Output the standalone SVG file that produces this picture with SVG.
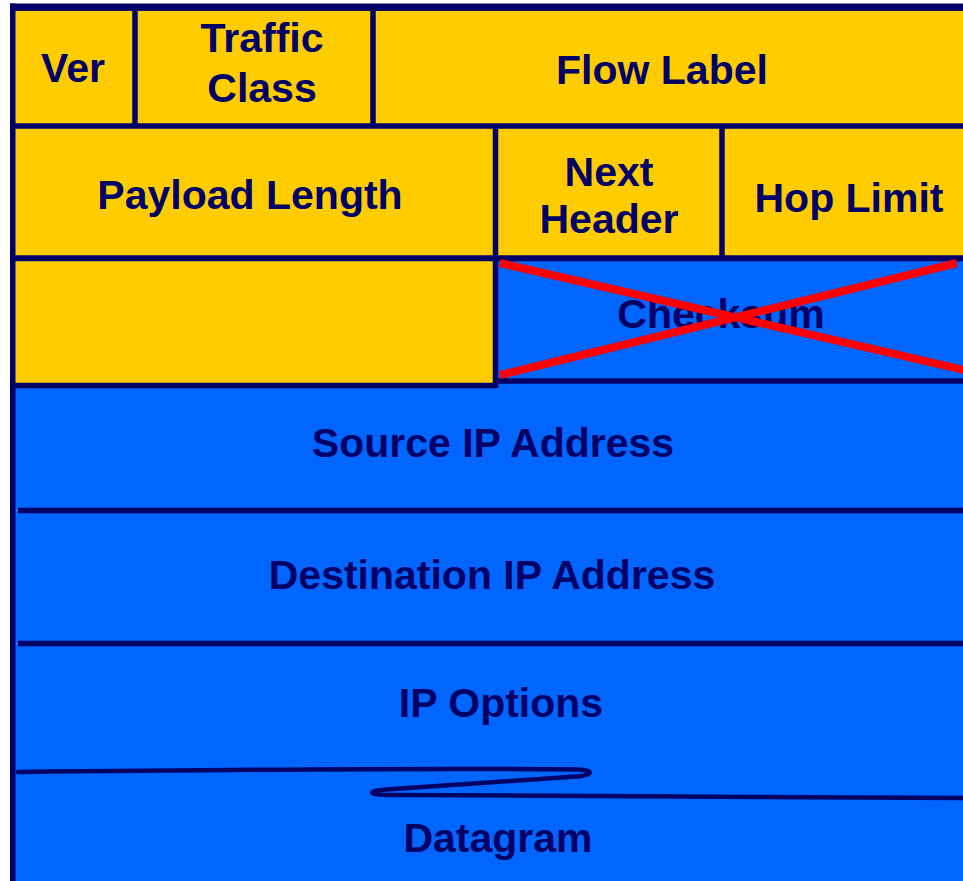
<svg xmlns="http://www.w3.org/2000/svg" width="963" height="881" viewBox="0 0 963 881">
  <style>
    .yel { fill: #FFCC00; }
    .blu { fill: #0066FF; }
    .rule { stroke: #000066; stroke-width: 5.5; fill: none; }
    .lbl { font-family: "Liberation Sans", Arial, sans-serif; font-weight: bold; font-size: 41px; fill: #000066; text-anchor: middle; }
    .cross { stroke: #FF0000; stroke-width: 8; stroke-linecap: butt; }
  </style>
  <rect x="0" y="0" width="963" height="881" fill="#FFFFFF"/>

  <!-- header row 1 -->
  <g id="ver">
    <rect class="yel" x="12.5" y="7" width="122.5" height="119"/>
    <text class="lbl" x="73" y="82">Ver</text>
  </g>
  <g id="traffic-class">
    <rect class="yel" x="135" y="7" width="238" height="119"/>
    <text class="lbl" x="262" y="52">Traffic</text>
    <text class="lbl" x="262" y="102">Class</text>
  </g>
  <g id="flow-label">
    <rect class="yel" x="373" y="7" width="600" height="119"/>
    <text class="lbl" x="662" y="84">Flow Label</text>
  </g>

  <!-- header row 2 -->
  <g id="payload-length">
    <rect class="yel" x="12.5" y="126" width="483" height="132"/>
    <text class="lbl" x="250" y="209">Payload Length</text>
  </g>
  <g id="next-header">
    <rect class="yel" x="495.5" y="126" width="226.5" height="132"/>
    <text class="lbl" x="609" y="186">Next</text>
    <text class="lbl" x="609" y="233">Header</text>
  </g>
  <g id="hop-limit">
    <rect class="yel" x="722" y="126" width="251" height="132"/>
    <text class="lbl" x="849" y="212">Hop Limit</text>
  </g>

  <!-- header row 3 -->
  <g id="unused">
    <rect class="yel" x="12.5" y="258" width="483" height="127.5"/>
  </g>
  <g id="checksum">
    <rect class="blu" x="495.5" y="258" width="478" height="123"/>
    <text class="lbl" x="721" y="328">Checksum</text>
  </g>

  <!-- address / payload section -->
  <g id="source-ip">
    <rect class="blu" x="12.5" y="385.5" width="960" height="125"/>
    <rect class="blu" x="495.5" y="381" width="478" height="10"/>
    <text class="lbl" x="493" y="457">Source IP Address</text>
  </g>
  <g id="destination-ip">
    <rect class="blu" x="12.5" y="510.5" width="960" height="133"/>
    <text class="lbl" x="492" y="589">Destination IP Address</text>
  </g>
  <g id="ip-options">
    <rect class="blu" x="12.5" y="643.5" width="960" height="130"/>
    <text class="lbl" x="501" y="717">IP Options</text>
  </g>
  <g id="datagram">
    <rect class="blu" x="12.5" y="770" width="960" height="111"/>
    <text class="lbl" x="498" y="852">Datagram</text>
  </g>

  <!-- grid rules, break line and strike-through -->
  <g id="connectors">
    <line class="rule" x1="10" y1="7.3" x2="963" y2="7.3" style="stroke-width:7.5"/>
    <line class="rule" x1="12.75" y1="3.5" x2="12.75" y2="881"/>
    <line class="rule" x1="135" y1="7" x2="135" y2="126"/>
    <line class="rule" x1="373" y1="7" x2="373" y2="126"/>
    <line class="rule" x1="10" y1="126" x2="963" y2="126"/>
    <line class="rule" x1="495.5" y1="126" x2="495.5" y2="388"/>
    <line class="rule" x1="722" y1="126" x2="722" y2="258"/>
    <line class="rule" x1="10" y1="258.3" x2="963" y2="258.3" style="stroke-width:6"/>
    <line class="rule" x1="10" y1="385.5" x2="495.5" y2="385.5"/>
    <line class="rule" x1="495.5" y1="381" x2="963" y2="381"/>
    <line class="rule" x1="18" y1="510.5" x2="963" y2="510.5"/>
    <line class="rule" x1="18" y1="643.5" x2="963" y2="643.5"/>
    <path class="rule" style="stroke-width:4.5;stroke-linecap:round" d="M18,772 C200,770 450,768 578,769.5 C594,770 594,775 576,776.5 L386,789.5 C366,791.5 368,795 392,795 C600,796 800,797 963,798"/>
    <line class="cross" x1="500" y1="263" x2="975" y2="372.5"/>
    <line class="cross" x1="500" y1="375" x2="957" y2="263"/>
  </g>
</svg>
